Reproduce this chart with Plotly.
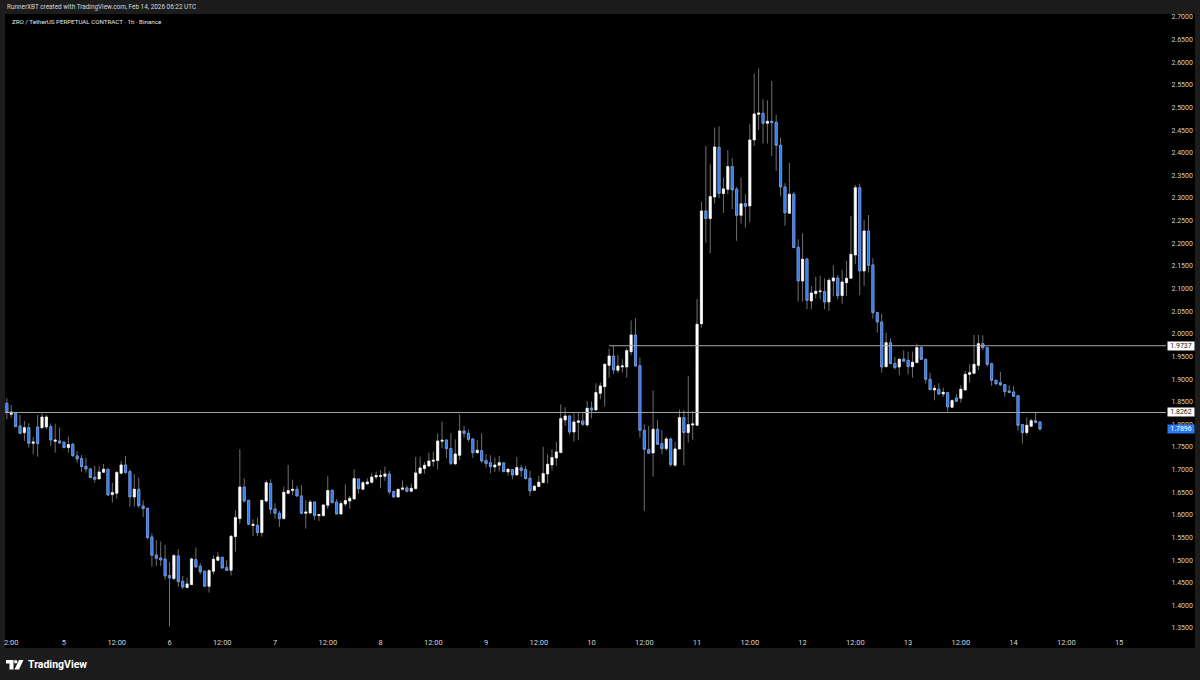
import plotly.graph_objects as go
import pandas as pd

# ZRO/USDT 1h candles, body top / body bottom / wicks
times = pd.date_range("2026-02-04 11:00", periods=236, freq="h")

body_tops = [
    1.8465,1.8273,1.8244,1.7964,1.7927,1.7927,1.7611,1.7942,1.8163,1.8163,
    1.7950,1.7655,1.7633,1.7604,1.7552,1.7559,1.7302,1.7243,1.7074,1.7015,
    1.6831,1.6948,1.7007,1.7007,1.6492,1.6934,1.7103,1.7103,1.6955,1.6565,
    1.6565,1.6197,1.6145,1.5512,1.5115,1.5049,1.5027,1.4659,1.5100,1.5093,
    1.4533,1.4475,1.5027,1.5012,1.4865,1.4754,1.4769,1.5019,1.5071,1.5063,
    1.4835,1.5527,1.5939,1.6616,1.6616,1.6322,1.5792,1.5770,1.6322,1.6712,
    1.6697,1.6131,1.6035,1.6499,1.6536,1.6565,1.6565,1.6418,1.6064,1.6285,
    1.6285,1.6006,1.6219,1.6536,1.6543,1.6285,1.6249,1.6315,1.6366,1.6801,
    1.6793,1.6712,1.6727,1.6837,1.6867,1.6867,1.6904,1.6904,1.6514,1.6566,
    1.6595,1.6595,1.6588,1.6926,1.7037,1.7096,1.7191,1.7206,1.7633,1.7648,
    1.7655,1.7464,1.7346,1.7854,1.7854,1.7802,1.7677,1.7427,1.7419,1.7199,
    1.7154,1.7103,1.7154,1.7148,1.7008,1.7001,1.7045,1.7037,1.7001,1.6809,
    1.6633,1.6721,1.6912,1.7118,1.7266,1.7391,1.8127,1.8186,1.8186,1.8053,
    1.8075,1.8075,1.8355,1.8362,1.8701,1.8848,1.9326,1.9510,1.9510,1.9290,
    1.9290,1.9628,1.9974,1.9974,1.9297,1.7869,1.7442,1.7891,1.7891,1.7575,
    1.7678,1.7678,1.7457,1.8149,1.8149,1.7994,1.8009,2.0210,2.2716,2.2716,
    2.3032,2.4129,2.4122,2.3202,2.3695,2.3695,2.3194,2.2871,2.2878,2.4284,
    2.4858,2.4880,2.4872,2.4696,2.4696,2.4674,2.4166,2.3246,2.3084,2.3084,
    2.1912,2.1647,2.1654,2.0903,2.0940,2.0947,2.0933,2.1183,2.1234,2.1234,
    2.1146,2.1227,2.1757,2.3229,2.3229,2.2272,2.2272,2.1522,2.0468,2.0262,
    1.9805,1.9805,1.9342,1.9437,1.9445,1.9415,1.9371,1.9695,1.9695,1.9437,
    1.8996,1.8797,1.8775,1.8709,1.8701,1.8525,1.8583,1.8775,1.9105,1.9142,
    1.9326,1.9783,1.9783,1.9694,1.9341,1.8973,1.8921,1.8877,1.8737,1.8715,
    1.8634,1.7994,1.7979,1.8082,1.8082,1.8053,
]
body_bots = [
    1.8259,1.8222,1.7950,1.7802,1.7817,1.7581,1.7581,1.7574,1.7927,1.7942,
    1.7655,1.7626,1.7589,1.7486,1.7486,1.7309,1.7236,1.7066,1.7015,1.6823,
    1.6787,1.6794,1.6941,1.6441,1.6448,1.6477,1.6919,1.6934,1.6396,1.6396,
    1.6204,1.6138,1.5498,1.5108,1.5041,1.5005,1.4651,1.4607,1.4592,1.4526,
    1.4408,1.4394,1.4460,1.4850,1.4740,1.4423,1.4423,1.4754,1.4997,1.4828,
    1.4776,1.4776,1.5520,1.5917,1.6307,1.5792,1.5763,1.5608,1.5608,1.6307,
    1.6123,1.6035,1.5917,1.5917,1.6477,1.6536,1.6418,1.6035,1.6035,1.6042,
    1.5984,1.5984,1.5984,1.6212,1.6271,1.6020,1.6020,1.6241,1.6307,1.6352,
    1.6580,1.6565,1.6690,1.6720,1.6838,1.6845,1.6853,1.6507,1.6396,1.6396,
    1.6566,1.6521,1.6521,1.6580,1.6919,1.7022,1.7081,1.7184,1.7199,1.7625,
    1.7464,1.7140,1.7125,1.7316,1.7802,1.7670,1.7375,1.7375,1.7191,1.7132,
    1.7066,1.7059,1.7096,1.6956,1.6949,1.6883,1.6883,1.6979,1.6802,1.6530,
    1.6544,1.6625,1.6714,1.6905,1.7104,1.7258,1.7376,1.8097,1.7832,1.7832,
    1.8046,1.8002,1.7987,1.8318,1.8318,1.8686,1.8833,1.9304,1.9201,1.9194,
    1.9268,1.9268,1.9606,1.9290,1.7869,1.7450,1.7361,1.7369,1.7560,1.7464,
    1.7464,1.7111,1.7096,1.7457,1.7818,1.7818,1.7987,1.7980,2.0224,2.2547,
    2.2547,2.3025,2.3106,2.3099,2.3194,2.3180,2.2620,2.2620,2.2819,2.2826,
    2.4284,2.4850,2.4652,2.4652,2.4666,2.4166,2.3246,2.2672,2.2664,2.1906,
    2.1168,2.1168,2.0741,2.0727,2.0889,2.0933,2.0705,2.0705,2.1168,2.0844,
    2.0844,2.1131,2.1227,2.1742,2.1389,2.1389,2.1514,2.0469,2.0262,1.9268,
    1.9275,1.9342,1.9253,1.9268,1.9393,1.9275,1.9275,1.9364,1.9437,1.8996,
    1.8767,1.8760,1.8672,1.8672,1.8385,1.8377,1.8510,1.8576,1.8759,1.9105,
    1.9127,1.9304,1.9694,1.9326,1.8973,1.8899,1.8870,1.8723,1.8708,1.8620,
    1.7979,1.7817,1.7817,1.7957,1.8038,1.7896,
]
highs = [
    1.8575,1.8428,1.8259,1.8207,1.8075,1.8023,1.7721,1.8207,1.8244,1.8207,
    1.8016,1.8016,1.7927,1.7633,1.7736,1.7596,1.7405,1.7324,1.7265,1.7029,
    1.7088,1.7074,1.7125,1.7022,1.6713,1.6971,1.7191,1.7302,1.7006,1.6896,
    1.6822,1.6322,1.6160,1.5593,1.5446,1.5409,1.5336,1.4960,1.5130,1.5240,
    1.4651,1.4614,1.5056,1.5277,1.4931,1.4776,1.4798,1.5108,1.5174,1.5071,
    1.4997,1.5556,1.6101,1.7448,1.6808,1.6329,1.5903,1.5939,1.6322,1.6764,
    1.6786,1.6256,1.6087,1.6624,1.7102,1.6778,1.6639,1.6653,1.6322,1.6329,
    1.6293,1.6013,1.6234,1.6859,1.6565,1.6344,1.6307,1.6675,1.6418,1.7007,
    1.6801,1.6749,1.6808,1.6933,1.6956,1.6985,1.7066,1.6970,1.6544,1.6573,
    1.6764,1.6647,1.6691,1.7280,1.7287,1.7169,1.7375,1.7397,1.7795,1.8060,
    1.7670,1.7802,1.7670,1.8222,1.7964,1.7890,1.7692,1.7655,1.7802,1.7338,
    1.7316,1.7265,1.7302,1.7155,1.7023,1.7008,1.7280,1.7104,1.7082,1.6971,
    1.6662,1.6861,1.7501,1.7339,1.7450,1.7612,1.8443,1.8377,1.8200,1.8244,
    1.8259,1.8259,1.8517,1.8502,1.8907,1.8922,1.9341,1.9672,1.9731,1.9532,
    1.9437,1.9680,2.0298,2.0342,1.9474,1.8002,1.7965,1.8752,1.8097,1.7869,
    1.7722,1.7707,1.7612,1.8325,1.8311,1.9069,1.8296,2.0769,2.2922,2.4151,
    2.3746,2.4556,2.4585,2.3452,2.4056,2.3879,2.3246,2.3452,2.3084,2.4630,
    2.5748,2.5866,2.5182,2.5160,2.5586,2.4836,2.4335,2.3327,2.3776,2.3136,
    2.2088,2.2221,2.1669,2.1058,2.1257,2.1279,2.1227,2.1227,2.1514,2.1301,
    2.1411,2.1610,2.2603,2.3288,2.3317,2.2515,2.2625,2.1669,2.0484,2.0446,
    2.0026,1.9901,1.9489,1.9452,1.9636,1.9606,1.9606,1.9783,1.9732,1.9437,
    1.9143,1.8870,1.8907,1.8812,1.8709,1.8554,1.8664,1.8863,1.9179,1.9326,
    1.9974,1.9974,1.9967,1.9716,1.9363,1.8995,1.9157,1.8885,1.8863,1.8848,
    1.8642,1.8001,1.8149,1.8127,1.8266,1.8068,
]
lows = [
    1.8111,1.8148,1.7942,1.7780,1.7633,1.7486,1.7339,1.7287,1.7891,1.7891,
    1.7523,1.7375,1.7559,1.7471,1.7375,1.7280,1.7155,1.6948,1.6934,1.6809,
    1.6713,1.6787,1.6934,1.6419,1.6271,1.6360,1.6897,1.6912,1.6182,1.6182,
    1.6160,1.5954,1.5461,1.4857,1.4872,1.4872,1.4563,1.3533,1.4563,1.4408,
    1.4357,1.4379,1.4445,1.4835,1.4688,1.4416,1.4283,1.4688,1.4982,1.4806,
    1.4762,1.4659,1.5188,1.5807,1.6270,1.5770,1.5535,1.5535,1.5520,1.6271,
    1.6013,1.5917,1.5733,1.5903,1.6469,1.6433,1.6403,1.6013,1.5697,1.6013,
    1.5881,1.5866,1.5961,1.6138,1.6249,1.6006,1.6006,1.6190,1.6138,1.6344,
    1.6469,1.6550,1.6653,1.6690,1.6786,1.6588,1.6750,1.6455,1.6374,1.6389,
    1.6544,1.6492,1.6507,1.6558,1.6904,1.6912,1.7059,1.7066,1.7000,1.7471,
    1.7250,1.7096,1.7118,1.7213,1.7706,1.7618,1.7257,1.7353,1.7140,1.7044,
    1.6919,1.6948,1.6956,1.6942,1.6861,1.6787,1.6868,1.6839,1.6780,1.6419,
    1.6530,1.6618,1.6699,1.6692,1.6986,1.7082,1.7369,1.7965,1.7773,1.7619,
    1.7648,1.7965,1.7943,1.8134,1.8311,1.8554,1.8392,1.9032,1.9113,1.9135,
    1.9150,1.9032,1.9525,1.9275,1.7707,1.6088,1.7354,1.6846,1.7545,1.7339,
    1.7413,1.7060,1.7067,1.7450,1.7096,1.7597,1.7656,1.7972,2.0135,2.2017,
    2.1780,2.2878,2.2996,2.2672,2.3084,2.2753,2.2054,2.2436,2.2348,2.2466,
    2.4151,2.4504,2.4203,2.4203,2.3930,2.3599,2.3040,2.2385,2.2657,2.1892,
    2.0712,2.0712,2.0543,2.0543,2.0786,2.0763,2.0543,2.0506,2.0830,2.0763,
    2.0668,2.0837,2.1220,2.1536,2.0852,2.1058,2.1352,2.0336,2.0026,1.9143,
    1.9261,1.9327,1.9216,1.9084,1.9386,1.9106,1.9032,1.9356,1.9423,1.8900,
    1.8753,1.8532,1.8650,1.8606,1.8282,1.8370,1.8495,1.8480,1.8745,1.8921,
    1.9120,1.9201,1.9635,1.9275,1.8848,1.8863,1.8848,1.8612,1.8686,1.8605,
    1.7854,1.7575,1.7759,1.7942,1.8023,1.7862,
]
# u = closed up (white), d = closed down (blue), ten candles per row
directions = "".join([
    "duddududuu",
    "duddudddd" "d",
    "duuduuuddu",
    "ddddddddud",
    "duudddu" "uud",
    "duuudduduu",
    "ddduuudduu",
    "duuudduuuu",
    "duuuuuuddu",
    "uduuuuuuuu",
    "dduuddduDD".lower(),
    "duudududdd",
    "uuuuuuuudu",
    "ududuuuudu",
    "uuudddd" "udd",
    "uduuduuuud",
    "uuduuddudu",
    "uududdddud",
    "duduuuduud",
    "uuuududddd",
    "uddudduudd",
    "dudududuuu",
    "uudddddddd",
    "dduudd",
])

price_ticks_start = 1.35
price_ticks_step = 0.05

day_tick_times = pd.date_range("2026-02-04 12:00", "2026-02-15 00:00", freq="12h")
day_tick_text = ["2:00"] + [
    str(t.day) if t.hour == 0 else "12:00" for t in day_tick_times[1:]
]

level_prices = [1.9737, 1.8262]
level_starts = ["2026-02-10 04:00", "2026-02-04 10:00"]
last_price = 1.7896

opens = [b if d == "u" else t for t, b, d in zip(body_tops, body_bots, directions)]
closes = [t if d == "u" else b for t, b, d in zip(body_tops, body_bots, directions)]

# pixel helpers, plot area is 5..1166 by 14..632
def px(x):
    return (x - 5) / 1161
def py(y):
    return (632 - y) / 618

fig = go.Figure()

# wicks first in grey, then the bodies on top so the outline stays light
fig.add_trace(go.Candlestick(
    x=times, open=opens, high=highs, low=lows, close=closes,
    increasing=dict(line=dict(color="#8c8c8c", width=0.8), fillcolor="#8c8c8c"),
    decreasing=dict(line=dict(color="#8c8c8c", width=0.8), fillcolor="#8c8c8c"),
    hoverinfo="skip",
))
fig.add_trace(go.Candlestick(
    x=times, open=opens, high=body_tops, low=body_bots, close=closes,
    increasing=dict(line=dict(color="#ffffff", width=0.5), fillcolor="#ffffff"),
    decreasing=dict(line=dict(color="#7fa9f7", width=0.5), fillcolor="#2a78f6"),
))

shapes = [
    dict(type="rect", xref="paper", yref="paper", x0=1, x1=px(1195), y0=py(648), y1=1,
         fillcolor="#000000", line_width=0, layer="below"),
    dict(type="rect", xref="paper", yref="paper", x0=0, x1=1, y0=py(648), y1=0,
         fillcolor="#000000", line_width=0, layer="below"),
    # TradingView mark
    dict(type="path", xref="paper", yref="paper",
         path=f"M {px(6)} {py(660)} H {px(13.5)} V {py(669.5)} H {px(9.5)} V {py(663.5)} H {px(6)} Z",
         fillcolor="#ffffff", line_width=0),
    dict(type="circle", xref="paper", yref="paper", x0=px(14), x1=px(17.4), y0=py(663.5), y1=py(660),
         fillcolor="#ffffff", line_width=0),
    dict(type="path", xref="paper", yref="paper",
         path=f"M {px(19)} {py(660)} H {px(23.5)} L {px(19)} {py(669.5)} H {px(14.5)} Z",
         fillcolor="#ffffff", line_width=0),
]
for price, start in zip(level_prices, level_starts):
    shapes.append(dict(type="line", xref="x", yref="y", x0=start, x1="2026-02-15 10:40",
                       y0=price, y1=price, line=dict(color="#a6a6a6", width=1)))

annotations = [
    dict(text="RunnerXBT created with TradingView.com, Feb 14, 2026 06:22 UTC",
         x=px(4.5), y=py(7), font=dict(color="#d8d8d8", size=6.4)),
    dict(text="ZRO / TetherUS PERPETUAL CONTRACT · 1h · Binance",
         x=px(9.5), y=py(22), font=dict(color="#e6e6e6", size=6.2)),
    dict(text="<b>TradingView</b>", x=px(26), y=py(664.5),
         font=dict(color="#ffffff", size=10.5)),
]
for a in annotations:
    a.update(xref="paper", yref="paper", xanchor="left", yanchor="middle", showarrow=False)

for price in level_prices:
    annotations.append(dict(text=f"{price:.4f}", xref="paper", yref="y", x=px(1167), y=price,
                            xanchor="left", yanchor="middle", showarrow=False, width=26, height=8,
                            bgcolor="#ffffff", borderpad=0, font=dict(color="#131722", size=7)))
annotations.append(dict(text=f"{last_price:.4f}", xref="paper", yref="y", x=px(1167), y=last_price,
                        xanchor="left", yanchor="middle", showarrow=False, width=26, height=8,
                        bgcolor="#2a78f6", borderpad=0, font=dict(color="#ffffff", size=7)))

fig.update_layout(
    width=1200, height=680,
    margin=dict(l=5, r=34, t=14, b=48),
    paper_bgcolor="#1c1c1c", plot_bgcolor="#000000",
    showlegend=False,
    font=dict(family="Roboto", color="#d1d4dc", size=7),
    shapes=shapes, annotations=annotations,
)
fig.update_xaxes(
    range=["2026-02-04 10:35", "2026-02-15 10:40"],
    rangeslider_visible=False, showgrid=False, zeroline=False,
    tickmode="array", tickvals=day_tick_times, ticktext=day_tick_text,
    ticks="outside", ticklen=3, tickcolor="#000000",
    tickfont=dict(size=7.5, color="#d1d4dc"), showline=False,
)
fig.update_yaxes(
    range=[1.3412, 2.7066], side="right", showgrid=False, zeroline=False,
    tick0=price_ticks_start, dtick=price_ticks_step, tickformat=".4f",
    ticks="outside", ticklen=3, tickcolor="#000000",
    tickfont=dict(size=7, color="#d1d4dc"), showline=False,
)

# the page keeps its default body margin otherwise, which shifts the chart
fig.write_html("out.html", config=dict(displayModeBar=False),
               post_script="document.body.style.margin='0';")
